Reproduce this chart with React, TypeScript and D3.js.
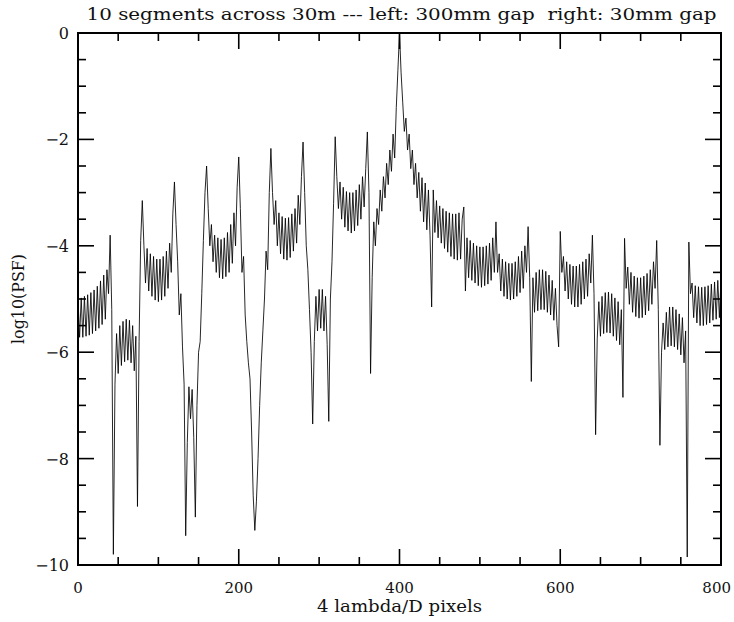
import { useMemo } from 'react';
import * as d3 from 'd3';

// log10(PSF), one value every 2 pixels, one array per 40-pixel segment
const seg000 = [-5.0, -5.72, -4.98, -5.72, -4.95, -5.7, -4.92, -5.68, -4.88, -5.65, -4.83, -5.6, -4.76, -5.55, -4.66, -5.48, -4.55, -5.38, -4.45, -4.9];
const seg040 = [-3.8, -5.2, -9.8, -6.6, -5.65, -6.4, -5.5, -6.25, -5.42, -6.18, -5.38, -6.15, -5.4, -6.2, -5.5, -6.35, -5.7, -8.9, -5.8, -3.9];
const seg080 = [-3.15, -4.0, -4.7, -4.05, -4.85, -4.15, -4.95, -4.2, -5.02, -4.25, -5.05, -4.25, -5.02, -4.2, -4.95, -4.1, -4.8, -3.95, -4.5, -3.4];
const seg120 = [-2.8, -3.6, -4.3, -5.3, -4.9, -5.9, -6.6, -9.45, -7.7, -6.65, -7.25, -6.7, -7.6, -9.1, -7.0, -6.0, -5.8, -4.9, -3.9, -3.0];
const seg160 = [-2.5, -3.3, -4.0, -3.6, -4.3, -3.8, -4.5, -3.85, -4.6, -3.88, -4.62, -3.85, -4.58, -3.75, -4.5, -3.6, -4.33, -3.38, -4.0, -2.9];
const seg200 = [-2.33, -3.3, -4.5, -4.2, -5.3, -5.8, -6.2, -6.5, -7.5, -8.7, -9.35, -8.8, -8.0, -7.0, -6.2, -5.6, -5.0, -4.1, -4.45, -3.0];
const seg240 = [-2.17, -3.0, -3.6, -3.15, -4.0, -3.38, -4.15, -3.45, -4.25, -3.48, -4.27, -3.47, -4.22, -3.4, -4.1, -3.3, -3.95, -3.05, -3.6, -2.7];
const seg280 = [-2.05, -3.0, -4.0, -4.45, -5.2, -6.0, -7.35, -5.8, -4.95, -5.6, -4.82, -5.55, -4.82, -5.6, -4.95, -5.85, -7.3, -5.0, -4.3, -3.2];
const seg320 = [-1.95, -2.7, -3.3, -2.8, -3.5, -2.9, -3.65, -2.98, -3.72, -3.0, -3.76, -3.0, -3.72, -2.95, -3.62, -2.85, -3.5, -2.7, -3.27, -2.55];
const seg360 = [-1.86, -3.0, -6.4, -4.6, -3.55, -4.0, -3.3, -3.6, -2.95, -3.35, -2.7, -3.1, -2.45, -2.85, -2.2, -2.6, -1.9, -2.35, -1.4, -0.7];
const seg400 = [0, -0.75, -1.3, -1.85, -1.6, -2.2, -1.9, -2.55, -2.2, -2.85, -2.45, -3.1, -2.62, -3.35, -2.72, -3.55, -2.82, -3.7, -2.95, -3.8];
const seg440 = [-5.15, -2.95, -3.75, -3.15, -3.85, -3.25, -3.95, -3.3, -4.05, -3.35, -4.12, -3.38, -4.2, -3.4, -4.25, -3.4, -4.27, -3.38, -4.25, -3.5];
const seg480 = [-3.27, -4.85, -3.85, -4.6, -3.9, -4.65, -3.95, -4.7, -4.0, -4.75, -4.02, -4.78, -4.02, -4.75, -4.0, -4.72, -3.95, -4.65, -3.85, -4.5];
const seg520 = [-3.55, -4.5, -4.15, -4.85, -4.25, -4.95, -4.3, -5.0, -4.33, -5.02, -4.33, -5.0, -4.3, -4.95, -4.2, -4.88, -4.1, -4.8, -4.0, -4.5];
const seg560 = [-3.64, -4.6, -6.55, -4.6, -5.25, -4.5, -5.22, -4.45, -5.2, -4.45, -5.2, -4.48, -5.25, -4.55, -5.3, -4.65, -5.4, -4.8, -5.5, -5.9];
const seg600 = [-3.73, -4.5, -4.2, -4.85, -4.3, -5.0, -4.35, -5.1, -4.38, -5.15, -4.38, -5.15, -4.35, -5.1, -4.3, -5.0, -4.25, -4.95, -4.15, -4.7];
const seg640 = [-3.8, -4.9, -7.55, -5.75, -5.05, -5.7, -4.95, -5.65, -4.88, -5.63, -4.87, -5.64, -4.9, -5.7, -4.98, -5.78, -5.05, -5.86, -5.2, -6.85];
const seg680 = [-3.86, -4.8, -4.4, -5.1, -4.5, -5.25, -4.57, -5.33, -4.6, -5.36, -4.6, -5.35, -4.57, -5.3, -4.52, -5.22, -4.45, -5.1, -4.3, -4.8];
const seg720 = [-3.9, -5.2, -7.75, -6.0, -5.45, -5.95, -5.25, -5.9, -5.15, -5.88, -5.15, -5.9, -5.2, -5.95, -5.28, -6.05, -5.35, -6.2, -5.6, -9.85];
const seg760 = [-3.93, -4.9, -4.7, -5.35, -4.75, -5.45, -4.77, -5.5, -4.78, -5.5, -4.77, -5.48, -4.75, -5.45, -4.72, -5.4, -4.68, -5.38, -4.65, -5.35];
const lastValue = [-4.62];

const xTicks = [0, 200, 400, 600, 800];
const yTicks = [0, -2, -4, -6, -8, -10];

const title = '10 segments across 30m --- left: 300mm gap\u00a0\u00a0right: 30mm gap';
const xTitle = '4 lambda/D pixels';
const yTitle = 'log10(PSF)';

const W = 734, H = 622;
const left = 78, right = 721, top = 33, bottom = 565;
const FONT = '"DejaVu Serif", serif';

export default function App() {
  const x = d3.scaleLinear().domain([0, 800]).range([left, right]);
  const y = d3.scaleLinear().domain([-10, 0]).range([bottom, top]);

  const pts = useMemo(() => {
    const all = [seg000, seg040, seg080, seg120, seg160, seg200, seg240, seg280, seg320, seg360,
      seg400, seg440, seg480, seg520, seg560, seg600, seg640, seg680, seg720, seg760, lastValue].flat();
    return all.map((v, i) => [i * 2, v] as [number, number]);
  }, []);

  const line = d3.line<[number, number]>().x(d => x(d[0])).y(d => y(d[1]));

  const xMinor = d3.range(0, 801, 50).filter(v => v % 200 !== 0);
  const yMinor = d3.range(-10, 0.01, 0.5).filter(v => Math.abs(v % 2) > 0.01);
  const major = 16, minor = 8;

  return (
    <svg width={W} height={H} style={{ position: 'absolute', left: 0, top: 0, background: '#fff' }}
      fontFamily={FONT}>
      <defs>
        <clipPath id="plotclip">
          <rect x={left} y={top} width={right - left} height={bottom - top} />
        </clipPath>
      </defs>
      <path d={line(pts) ?? ''} fill="none" stroke="#000" strokeWidth={0.85} clipPath="url(#plotclip)" />

      {/* ticks, inward on all four sides */}
      <g stroke="#000" strokeWidth={1.6}>
        {xTicks.map(t => (
          <g key={'xt' + t}>
            <line x1={x(t)} x2={x(t)} y1={bottom} y2={bottom - major} />
            <line x1={x(t)} x2={x(t)} y1={top} y2={top + major} />
          </g>
        ))}
        {xMinor.map(t => (
          <g key={'xm' + t}>
            <line x1={x(t)} x2={x(t)} y1={bottom} y2={bottom - minor} />
            <line x1={x(t)} x2={x(t)} y1={top} y2={top + minor} />
          </g>
        ))}
        {yTicks.map(t => (
          <g key={'yt' + t}>
            <line x1={left} x2={left + major} y1={y(t)} y2={y(t)} />
            <line x1={right} x2={right - major} y1={y(t)} y2={y(t)} />
          </g>
        ))}
        {yMinor.map(t => (
          <g key={'ym' + t}>
            <line x1={left} x2={left + minor} y1={y(t)} y2={y(t)} />
            <line x1={right} x2={right - minor} y1={y(t)} y2={y(t)} />
          </g>
        ))}
      </g>
      <rect x={left} y={top} width={right - left} height={bottom - top} fill="none" stroke="#000" strokeWidth={2} />

      <g fontSize={15} fill="#111">
        {xTicks.map((t, i) => {
          const last = i === xTicks.length - 1;
          return (
            <text key={'xl' + t} x={last ? W - 3 : x(t)} y={bottom + 28} textAnchor={last ? 'end' : 'middle'}>{t}</text>
          );
        })}
        {yTicks.map(t => (
          <text key={'yl' + t} x={left - 9} y={y(t) + 6} fontSize={16} textAnchor="end">{t === 0 ? '0' : '\u2212' + Math.abs(t)}</text>
        ))}
        <text x={(left + right) / 2 + 2} y={20} textAnchor="middle" fontSize={16.5} textLength={630} lengthAdjust="spacingAndGlyphs">{title}</text>
        <text x={(left + right) / 2} y={612} textAnchor="middle" fontSize={16} textLength={165} lengthAdjust="spacingAndGlyphs">{xTitle}</text>
        <text transform={`translate(24,${(top + bottom) / 2}) rotate(-90)`} textAnchor="middle" fontSize={16} textLength={90} lengthAdjust="spacingAndGlyphs">{yTitle}</text>
      </g>
    </svg>
  );
}
